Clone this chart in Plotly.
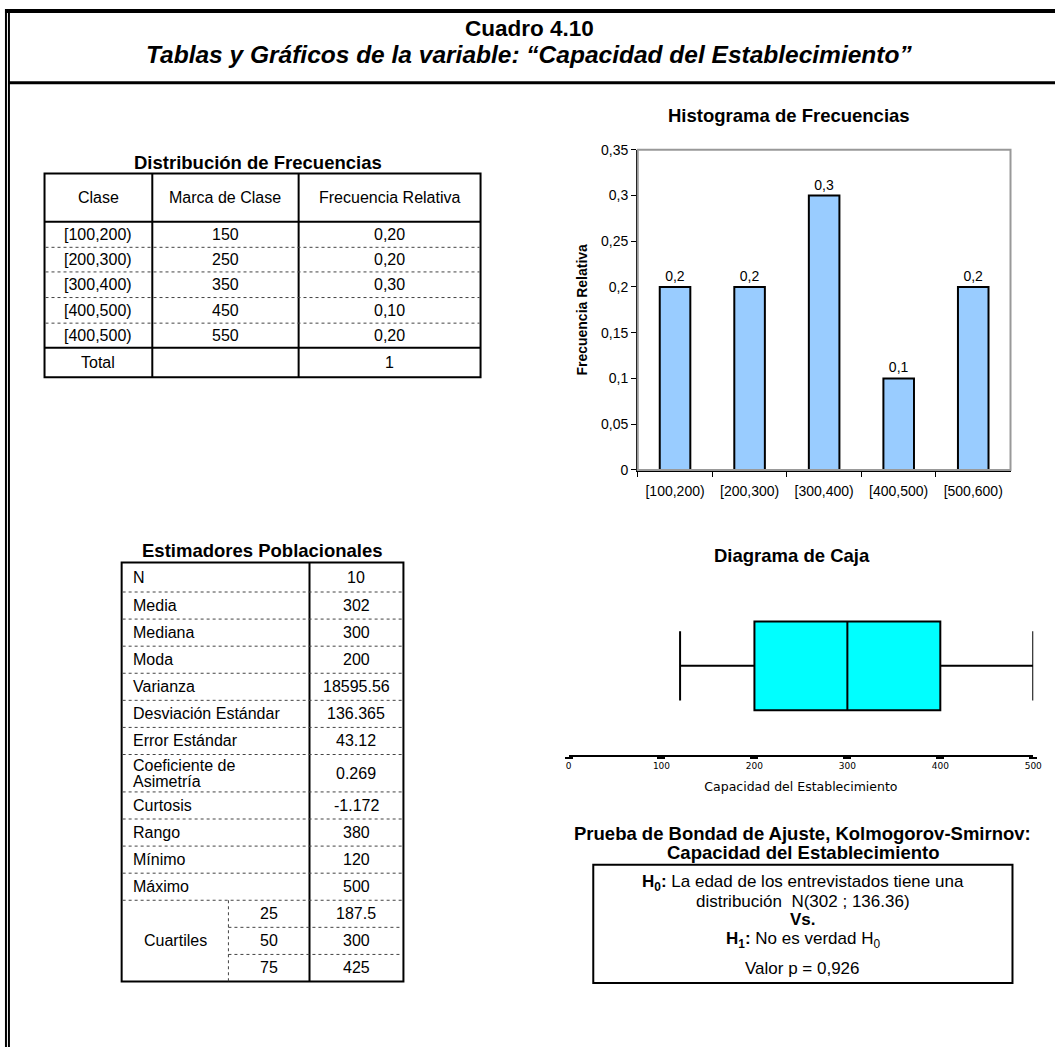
import plotly.graph_objects as go

# Data
clases = ["[100,200)", "[200,300)", "[300,400)", "[400,500)", "[400,500)"]
marcas = [150, 250, 350, 450, 550]
frec_rel = [0.20, 0.20, 0.30, 0.10, 0.20]
total_frec = 1

hist_cats = ["[100,200)", "[200,300)", "[300,400)", "[400,500)", "[500,600)"]
hist_vals = [0.2, 0.2, 0.3, 0.1, 0.2]

est_labels = ["N", "Media", "Mediana", "Moda", "Varianza", "Desviación Estándar",
              "Error Estándar", "Coeficiente de|Asimetría", "Curtosis", "Rango",
              "Mínimo", "Máximo"]
est_values = ["10", "302", "300", "200", "18595.56", "136.365", "43.12", "0.269",
              "-1.172", "380", "120", "500"]
cuart_pct = [25, 50, 75]
cuart_vals = ["187.5", "300", "425"]

box_min, box_q1, box_med, box_q3, box_max = 120, 200, 300, 400, 500

W, H = 1064, 1055
FONT = "Liberation Sans, Arial, sans-serif"


def fx(x):
    return x / W


def fy(y):
    return 1 - y / H


shapes = []
annots = []


def line(x0, y0, x1, y1, w=1, dash="solid", color="black"):
    shapes.append(dict(type="line", xref="paper", yref="paper",
                       x0=fx(x0), y0=fy(y0), x1=fx(x1), y1=fy(y1),
                       line=dict(color=color, width=w, dash=dash)))


def text(x, y, s, size=16, bold=False, italic=False, anchor="center", fam=FONT):
    if bold:
        s = "<b>" + s + "</b>"
    if italic:
        s = "<i>" + s + "</i>"
    annots.append(dict(x=fx(x), y=fy(y), xref="paper", yref="paper", text=s,
                       showarrow=False, xanchor=anchor, yanchor="middle",
                       font=dict(family=fam, size=size, color="black")))


def fmt(v):
    return ("%.2f" % v).replace(".", ",")


HEAD = 18.5
BODY = 16

# outer frame
line(2, 3, W, 3, 4)
line(3, 1, 3, H, 2)
line(6, 3, 6, H, 2)
line(6, 76, W, 76, 3)
text(532, 21, "Cuadro 4.10", 22.5, bold=True)
text(532, 47, "Tablas y Gráficos de la variable: “Capacidad del Establecimiento”", 24.5, bold=True, italic=True)

# frequency table
text(258, 157, "Distribución de Frecuencias", HEAD, bold=True)
cx = [42, 151, 299, 483]
ry = [168, 217, 243, 268, 294, 320, 345, 375]
shapes.append(dict(type="rect", xref="paper", yref="paper", x0=fx(42), y0=fy(375),
                   x1=fx(483), y1=fy(168), line=dict(color="black", width=2)))
line(151, 168, 151, 375, 2)
line(299, 168, 299, 375, 2)
line(42, 217, 483, 217, 2)
line(42, 345, 483, 345, 2)
for yy in ry[2:6]:
    line(43, yy, 482, yy, 1, "dot", "#444444")
hdr = ["Clase", "Marca de Clase", "Frecuencia Relativa"]
for i in range(3):
    text((cx[i] + cx[i + 1]) / 2, (ry[0] + ry[1]) / 2, hdr[i], BODY)
for r in range(5):
    yc = (ry[r + 1] + ry[r + 2]) / 2
    text((cx[0] + cx[1]) / 2, yc, clases[r], BODY)
    text((cx[1] + cx[2]) / 2, yc, str(marcas[r]), BODY)
    text((cx[2] + cx[3]) / 2, yc, fmt(frec_rel[r]), BODY)
text((cx[0] + cx[1]) / 2, (ry[6] + ry[7]) / 2, "Total", BODY)
text((cx[2] + cx[3]) / 2, (ry[6] + ry[7]) / 2, str(total_frec), BODY)

# estimadores table
text(262, 551, "Estimadores Poblacionales", HEAD, bold=True)
ex0, exm, ex1, exq = 120, 310, 405, 228
heights = [30, 27.5, 27.5, 27.5, 27.5, 27.5, 27.5, 38, 27.5, 27.5, 27.5, 27.5]
rows = [563]
for hh in heights:
    rows.append(rows[-1] + hh)
qrows = [rows[-1] + 27.5 * k for k in range(4)]
bottom = qrows[-1]
shapes.append(dict(type="rect", xref="paper", yref="paper", x0=fx(ex0), y0=fy(bottom),
                   x1=fx(ex1), y1=fy(563), line=dict(color="black", width=2)))
line(exm, 563, exm, bottom, 2)
for yy in rows[1:]:
    line(ex0 + 1, yy, ex1 - 1, yy, 1, "dot", "#444444")
for yy in qrows[1:3]:
    line(exq, yy, ex1 - 1, yy, 1, "dot", "#444444")
line(exq, qrows[0], exq, bottom, 1, "dot", "#444444")
for i, lab in enumerate(est_labels):
    yc = (rows[i] + rows[i + 1]) / 2
    parts = lab.split("|")
    if len(parts) == 2:
        text(ex0 + 9, yc - 8, parts[0], BODY, anchor="left")
        text(ex0 + 9, yc + 8, parts[1], BODY, anchor="left")
    else:
        text(ex0 + 9, yc, lab, BODY, anchor="left")
    text((exm + ex1) / 2, yc, est_values[i], BODY)
text((ex0 + exq) / 2, (qrows[0] + bottom) / 2, "Cuartiles", BODY)
for k in range(3):
    yc = (qrows[k] + qrows[k + 1]) / 2
    text((exq + exm) / 2, yc, str(cuart_pct[k]), BODY)
    text((exm + ex1) / 2, yc, cuart_vals[k], BODY)

# histogram
text(795, 109, "Histograma de Frecuencias", HEAD, bold=True)
shapes.append(dict(type="rect", xref="paper", yref="paper", x0=fx(642), y0=fy(469),
                   x1=fx(1019), y1=fy(144), line=dict(color="#999999", width=2)))

# box plot title
text(798, 556, "Diagrama de Caja", HEAD, bold=True)

# KS test box
text(809, 838, "Prueba de Bondad de Ajuste, Kolmogorov-Smirnov:", HEAD, bold=True)
text(809, 857, "Capacidad del Establecimiento", HEAD, bold=True)
shapes.append(dict(type="rect", xref="paper", yref="paper", x0=fx(597), y0=fy(990),
                   x1=fx(1021), y1=fy(870), line=dict(color="black", width=2)))
KS = 17
text(809, 888, "<b>H<sub>0</sub>:</b> La edad de los entrevistados tiene una", KS)
text(809, 907, "distribución  N(302 ; 136.36)", KS)
text(809, 926, "<b>Vs.</b>", KS)
text(809, 946, "<b>H<sub>1</sub>:</b> No es verdad H<sub>0</sub>", KS)
text(809, 975, "Valor p = 0,926", KS)

fig = go.Figure()
fig.add_trace(go.Bar(
    x=hist_cats, y=hist_vals, width=0.41,
    marker=dict(color="#99CCFF", line=dict(color="black", width=2)),
    text=[str(v).replace(".", ",") for v in hist_vals], textposition="outside",
    textfont=dict(family=FONT, size=14, color="black"), cliponaxis=False,
    xaxis="x", yaxis="y", showlegend=False))

fig.add_trace(go.Box(
    y=[0], q1=[box_q1], median=[box_med], q3=[box_q3],
    lowerfence=[box_min], upperfence=[box_max], orientation="h",
    width=1.0, whiskerwidth=0.78, fillcolor="#00FFFF",
    line=dict(color="black", width=2), xaxis="x2", yaxis="y2",
    showlegend=False, hoverinfo="skip"))

fig.update_layout(
    width=W, height=H, margin=dict(l=0, r=0, t=0, b=0),
    paper_bgcolor="white", plot_bgcolor="white",
    separators=",.", font=dict(family=FONT, color="black"),
    shapes=shapes, annotations=annots,
    xaxis=dict(domain=[fx(642), fx(1019)], anchor="y", showline=True,
               linecolor="black", linewidth=1.5, ticks="outside", ticklen=5,
               tickson="boundaries", tickcolor="black", showgrid=False,
               ticklabelstandoff=8, tickfont=dict(size=14)),
    yaxis=dict(domain=[fy(469), fy(144)], anchor="x", range=[0, 0.35], dtick=0.05,
               showline=True, linecolor="black", linewidth=1.5, ticks="outside",
               ticklen=5, tickcolor="black", showgrid=False, zeroline=False,
               tickfont=dict(size=14),
               title=dict(text="<b>Frecuencia Relativa</b>", font=dict(size=14), standoff=10)),
    xaxis2=dict(domain=[fx(572), fx(1042)], anchor="y2", range=[0, 500],
                tickvals=[0, 100, 200, 300, 400, 500], showline=True, linecolor="black",
                linewidth=2, ticks="outside", ticklen=2, tickwidth=8, tickcolor="black",
                showgrid=False, zeroline=False,
                tickfont=dict(size=9, family="DejaVu Sans"),
                title=dict(text="Capacidad del Establecimiento",
                           font=dict(size=12.5, family="DejaVu Sans"), standoff=12)),
    yaxis2=dict(domain=[fy(758), fy(578)], anchor="x2", range=[-1, 1],
                visible=False, showgrid=False, zeroline=False),
)

fig.write_html("out.html", config={"displayModeBar": False},
               post_script="document.body.style.margin='0';")
